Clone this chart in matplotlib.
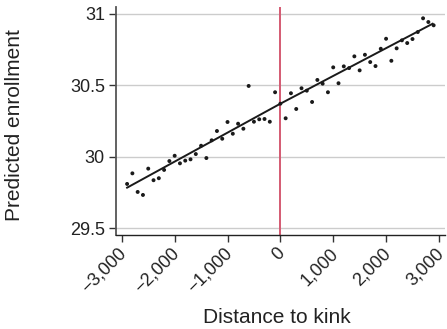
import numpy as np
import matplotlib.pyplot as plt
import matplotlib.transforms as mtransforms

plt.rcParams['font.family'] = ['Liberation Sans', 'DejaVu Sans']

# binned scatter: distance to kink (bins of 100) and predicted enrollment
dist = [-2900, -2800, -2700, -2600, -2500, -2400, -2300, -2200, -2100, -2000,
        -1900, -1800, -1700, -1600, -1500, -1400, -1300, -1200, -1100, -1000,
        -900, -800, -700, -600, -500, -400, -300, -200, -100, 0,
        100, 200, 300, 400, 500, 600, 700, 800, 900, 1000,
        1100, 1200, 1300, 1400, 1500, 1600, 1700, 1800, 1900, 2000,
        2100, 2200, 2300, 2400, 2500, 2600, 2700, 2800, 2900]
enroll = [29.81, 29.884, 29.754, 29.733, 29.917, 29.836, 29.85, 29.908, 29.97, 30.007,
          29.954, 29.973, 29.982, 30.019, 30.077, 29.991, 30.115, 30.18, 30.126, 30.243,
          30.161, 30.231, 30.196, 30.495, 30.245, 30.262, 30.264, 30.245, 30.451, 30.371,
          30.269, 30.444, 30.334, 30.479, 30.462, 30.383, 30.537, 30.511, 30.451, 30.625,
          30.514, 30.632, 30.62, 30.702, 30.604, 30.713, 30.662, 30.634, 30.755, 30.825,
          30.671, 30.758, 30.814, 30.795, 30.823, 30.872, 30.968, 30.942, 30.919]

# fitted lines on each side of the kink
fit_left_x = [-2900, 0]
fit_left_y = [29.784, 30.371]
fit_right_x = [0, 2880]
fit_right_y = [30.371, 30.93]

xticks = [-3000, -2000, -1000, 0, 1000, 2000, 3000]
xlabels = ['\u22123,000', '\u22122,000', '\u22121,000', '0', '1,000', '2,000', '3,000']
yticks = [29.5, 30, 30.5, 31]
ylabels = ['29.5', '30', '30.5', '31']

fig = plt.figure(figsize=(4.47, 3.29), dpi=100)
ax = fig.add_axes([116 / 447, 1 - 235 / 329, 329 / 447, 228 / 329])

for y in yticks:
    ax.axhline(y, color='#cccccc', lw=1.0, zorder=0)
ax.axvline(0, color='#d45a72', lw=1.4, zorder=1)

ax.plot(fit_left_x, fit_left_y, color='#1a1a1a', lw=1.4, zorder=2)
ax.plot(fit_right_x, fit_right_y, color='#1a1a1a', lw=1.4, zorder=2)
ax.scatter(dist, enroll, s=8, color='#1a1a1a', edgecolors='none', zorder=3)

ax.set_xlim(-3110, 3115)
ax.set_ylim(29.453, 31.047)

ax.spines['top'].set_visible(False)
ax.spines['right'].set_visible(False)
ax.spines['left'].set_color('#555555')
ax.spines['left'].set_linewidth(1.3)
ax.spines['bottom'].set_color('#222222')
ax.spines['bottom'].set_linewidth(1.0)

ax.set_xticks(xticks)
ax.set_xticklabels(xlabels, rotation=45, ha='right', va='center',
                   rotation_mode='anchor')
ax.set_yticks(yticks)
ax.set_yticklabels(ylabels)
ax.tick_params(axis='both', labelsize=13, length=5, width=1.0,
               color='#333333', labelcolor='#222222')
ax.tick_params(axis='x', pad=6.5)
ax.tick_params(axis='y', pad=3)

offset = mtransforms.ScaledTranslation(1.5 / 72, 0, fig.dpi_scale_trans)
for lab in ax.get_xticklabels():
    lab.set_transform(lab.get_transform() + offset)

ax.set_xlabel('Distance to kink', fontsize=15, color='#222222')
ax.set_ylabel('Predicted enrollment', fontsize=15, color='#222222')
ax.xaxis.set_label_coords(0.49, -0.32)
ax.yaxis.set_label_coords(-0.28, 0.482)

fig.savefig('out.png', dpi=100)
